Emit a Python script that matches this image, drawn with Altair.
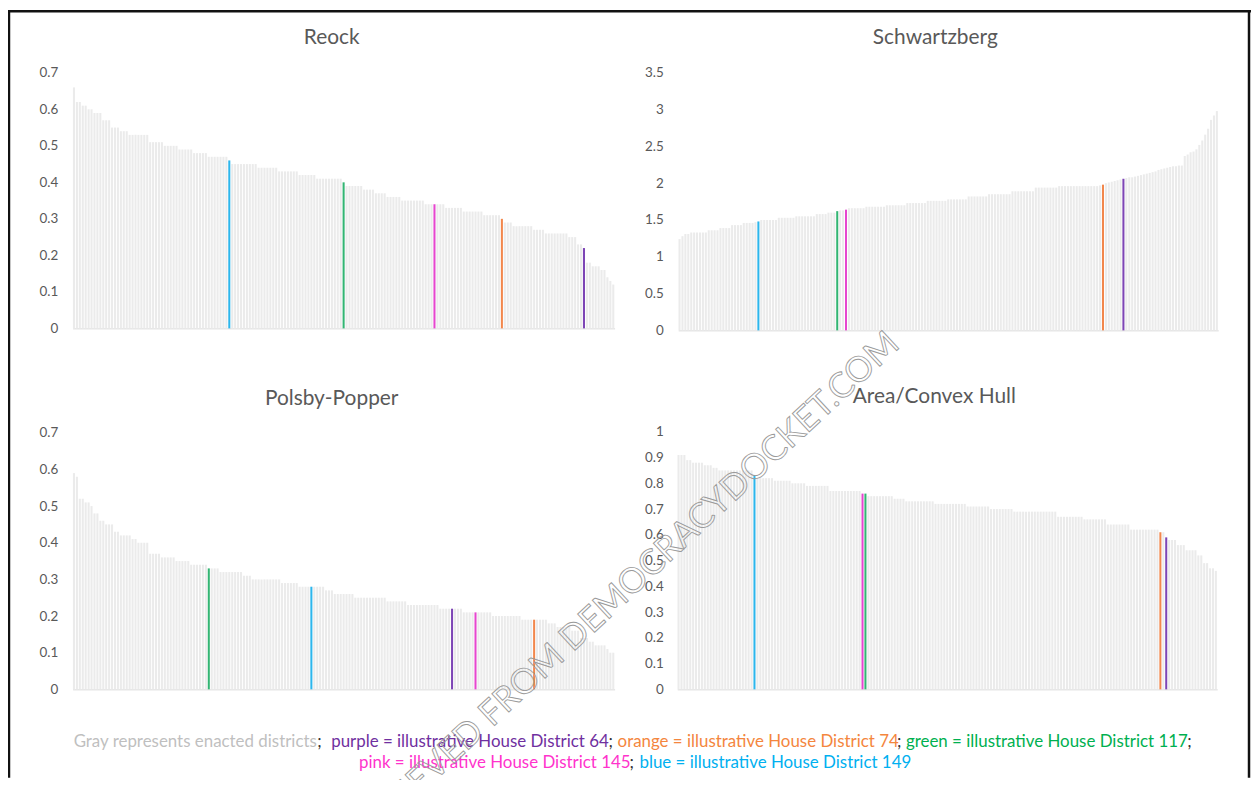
import altair as alt
import pandas as pd

W, H = 1250, 772

# ---------------- data ----------------
reock = [
    0.66, 0.62, 0.62, 0.61, 0.61, 0.60, 0.60, 0.59, 0.59, 0.59,
    0.57, 0.57, 0.57, 0.55, 0.55, 0.55, 0.54, 0.54, 0.54, 0.53,
    0.53, 0.53, 0.53, 0.53, 0.53, 0.53, 0.51, 0.51, 0.51, 0.51,
    0.51, 0.50, 0.50, 0.50, 0.50, 0.50, 0.49, 0.49, 0.49, 0.49,
    0.49, 0.48, 0.48, 0.48, 0.48, 0.48, 0.47, 0.47, 0.47, 0.47,
    0.47, 0.47, 0.47, 0.46, 0.45, 0.45, 0.45, 0.45, 0.45, 0.45,
    0.45, 0.45, 0.45, 0.44, 0.44, 0.44, 0.44, 0.44, 0.44, 0.44,
    0.43, 0.43, 0.43, 0.43, 0.43, 0.43, 0.43, 0.42, 0.42, 0.42,
    0.42, 0.42, 0.42, 0.41, 0.41, 0.41, 0.41, 0.41, 0.41, 0.41,
    0.41, 0.41, 0.40, 0.39, 0.39, 0.39, 0.39, 0.39, 0.39, 0.38,
    0.38, 0.38, 0.38, 0.37, 0.37, 0.37, 0.37, 0.36, 0.36, 0.36,
    0.36, 0.36, 0.35, 0.35, 0.35, 0.35, 0.35, 0.35, 0.35, 0.35,
    0.34, 0.34, 0.34, 0.34, 0.34, 0.34, 0.34, 0.33, 0.33, 0.33,
    0.33, 0.33, 0.33, 0.32, 0.32, 0.32, 0.32, 0.32, 0.32, 0.32,
    0.31, 0.31, 0.31, 0.31, 0.31, 0.31, 0.30, 0.29, 0.29, 0.29,
    0.28, 0.28, 0.28, 0.28, 0.28, 0.28, 0.28, 0.27, 0.27, 0.27,
    0.27, 0.26, 0.26, 0.26, 0.26, 0.26, 0.26, 0.26, 0.26, 0.25,
    0.25, 0.25, 0.23, 0.23, 0.22, 0.18, 0.18, 0.17, 0.17, 0.17,
    0.16, 0.16, 0.14, 0.13, 0.12,
]

schwartzberg = [
    1.24, 1.28, 1.31, 1.31, 1.33, 1.33, 1.33, 1.33, 1.33, 1.33,
    1.36, 1.36, 1.36, 1.36, 1.39, 1.39, 1.39, 1.39, 1.43, 1.43,
    1.43, 1.43, 1.46, 1.46, 1.46, 1.46, 1.47, 1.48, 1.50, 1.50,
    1.50, 1.50, 1.50, 1.50, 1.53, 1.53, 1.53, 1.53, 1.53, 1.53,
    1.55, 1.55, 1.55, 1.55, 1.55, 1.55, 1.55, 1.58, 1.58, 1.58,
    1.58, 1.60, 1.60, 1.60, 1.62, 1.63, 1.63, 1.64, 1.66, 1.66,
    1.66, 1.66, 1.66, 1.66, 1.68, 1.68, 1.68, 1.68, 1.68, 1.68,
    1.68, 1.70, 1.70, 1.70, 1.70, 1.70, 1.70, 1.70, 1.73, 1.73,
    1.73, 1.73, 1.73, 1.73, 1.73, 1.76, 1.76, 1.76, 1.76, 1.76,
    1.76, 1.76, 1.78, 1.78, 1.78, 1.78, 1.78, 1.78, 1.78, 1.82,
    1.82, 1.82, 1.82, 1.82, 1.82, 1.82, 1.85, 1.85, 1.85, 1.85,
    1.85, 1.85, 1.85, 1.85, 1.89, 1.89, 1.89, 1.89, 1.89, 1.89,
    1.89, 1.89, 1.94, 1.94, 1.94, 1.94, 1.94, 1.94, 1.94, 1.94,
    1.96, 1.96, 1.96, 1.96, 1.96, 1.96, 1.96, 1.96, 1.96, 1.96,
    1.96, 1.96, 1.96, 1.96, 1.97, 1.98, 2.00, 2.01, 2.02, 2.03,
    2.04, 2.05, 2.06, 2.07, 2.08, 2.08, 2.09, 2.10, 2.11, 2.12,
    2.13, 2.14, 2.15, 2.16, 2.18, 2.19, 2.20, 2.21, 2.22, 2.23,
    2.23, 2.24, 2.24, 2.37, 2.39, 2.42, 2.43, 2.46, 2.52, 2.58,
    2.66, 2.74, 2.86, 2.92, 2.98,
]

polsby_popper = [
    0.59, 0.58, 0.52, 0.52, 0.51, 0.51, 0.50, 0.48, 0.48, 0.46,
    0.46, 0.45, 0.45, 0.45, 0.43, 0.43, 0.42, 0.42, 0.42, 0.42,
    0.41, 0.41, 0.40, 0.40, 0.40, 0.40, 0.37, 0.37, 0.37, 0.37,
    0.36, 0.36, 0.36, 0.36, 0.36, 0.35, 0.35, 0.35, 0.35, 0.35,
    0.34, 0.34, 0.34, 0.34, 0.34, 0.34, 0.33, 0.33, 0.33, 0.33,
    0.32, 0.32, 0.32, 0.32, 0.32, 0.32, 0.32, 0.32, 0.31, 0.31,
    0.31, 0.30, 0.30, 0.30, 0.30, 0.30, 0.30, 0.30, 0.30, 0.30,
    0.30, 0.29, 0.29, 0.29, 0.29, 0.29, 0.29, 0.28, 0.28, 0.28,
    0.28, 0.28, 0.28, 0.28, 0.28, 0.28, 0.27, 0.27, 0.27, 0.26,
    0.26, 0.26, 0.26, 0.26, 0.26, 0.26, 0.25, 0.25, 0.25, 0.25,
    0.25, 0.25, 0.25, 0.25, 0.25, 0.25, 0.25, 0.24, 0.24, 0.24,
    0.24, 0.24, 0.24, 0.24, 0.23, 0.23, 0.23, 0.23, 0.23, 0.23,
    0.23, 0.23, 0.23, 0.23, 0.23, 0.22, 0.22, 0.22, 0.22, 0.22,
    0.22, 0.22, 0.22, 0.21, 0.21, 0.21, 0.21, 0.21, 0.21, 0.21,
    0.21, 0.21, 0.21, 0.20, 0.20, 0.20, 0.20, 0.20, 0.20, 0.20,
    0.20, 0.20, 0.20, 0.19, 0.19, 0.19, 0.19, 0.19, 0.19, 0.19,
    0.19, 0.19, 0.18, 0.18, 0.18, 0.17, 0.17, 0.17, 0.17, 0.17,
    0.16, 0.16, 0.16, 0.14, 0.14, 0.14, 0.13, 0.13, 0.12, 0.12,
    0.12, 0.12, 0.11, 0.10, 0.10,
]

area_convex_hull = [
    0.91, 0.91, 0.91, 0.89, 0.89, 0.88, 0.88, 0.88, 0.88, 0.87,
    0.87, 0.87, 0.86, 0.86, 0.85, 0.85, 0.85, 0.85, 0.85, 0.85,
    0.85, 0.85, 0.85, 0.85, 0.85, 0.85, 0.83, 0.82, 0.82, 0.82,
    0.82, 0.82, 0.82, 0.81, 0.81, 0.81, 0.81, 0.81, 0.81, 0.80,
    0.80, 0.80, 0.80, 0.80, 0.79, 0.79, 0.79, 0.79, 0.79, 0.79,
    0.79, 0.79, 0.77, 0.77, 0.77, 0.77, 0.77, 0.77, 0.77, 0.77,
    0.77, 0.77, 0.77, 0.76, 0.76, 0.75, 0.75, 0.75, 0.75, 0.75,
    0.75, 0.75, 0.75, 0.75, 0.74, 0.74, 0.74, 0.74, 0.73, 0.73,
    0.73, 0.73, 0.73, 0.73, 0.73, 0.73, 0.73, 0.73, 0.72, 0.72,
    0.72, 0.72, 0.72, 0.72, 0.72, 0.72, 0.72, 0.72, 0.72, 0.71,
    0.71, 0.71, 0.71, 0.71, 0.71, 0.71, 0.71, 0.70, 0.70, 0.70,
    0.70, 0.70, 0.70, 0.70, 0.70, 0.69, 0.69, 0.69, 0.69, 0.69,
    0.69, 0.69, 0.69, 0.69, 0.69, 0.69, 0.69, 0.69, 0.69, 0.69,
    0.67, 0.67, 0.67, 0.67, 0.67, 0.67, 0.67, 0.67, 0.67, 0.66,
    0.66, 0.66, 0.66, 0.66, 0.66, 0.66, 0.66, 0.64, 0.64, 0.64,
    0.64, 0.64, 0.64, 0.64, 0.64, 0.62, 0.62, 0.62, 0.62, 0.62,
    0.62, 0.62, 0.62, 0.62, 0.62, 0.61, 0.61, 0.59, 0.58, 0.58,
    0.58, 0.56, 0.56, 0.56, 0.54, 0.54, 0.54, 0.54, 0.52, 0.52,
    0.49, 0.49, 0.47, 0.47, 0.46,
]

# position (0-based, in sorted order) of each illustrative district in every panel
reock_hl = {"HD 149": 53, "HD 117": 92, "HD 145": 123, "HD 74": 146, "HD 64": 174}
schwartzberg_hl = {"HD 149": 27, "HD 117": 54, "HD 145": 57, "HD 74": 145, "HD 64": 152}
polsby_hl = {"HD 117": 46, "HD 149": 81, "HD 64": 129, "HD 145": 137, "HD 74": 157}
ach_hl = {"HD 149": 26, "HD 145": 63, "HD 117": 64, "HD 74": 165, "HD 64": 167}

groups = ["enacted", "HD 64", "HD 74", "HD 117", "HD 145", "HD 149"]
group_colors = ["#ebebeb", "#7d45b5", "#f2874c", "#33b573", "#e646cf", "#2db6ec"]

titles = ["Reock", "Schwartzberg", "Polsby-Popper", "Area/Convex Hull"]
ticks_07 = [0, 0.1, 0.2, 0.3, 0.4, 0.5, 0.6, 0.7]
ticks_35 = [0, 0.5, 1, 1.5, 2, 2.5, 3, 3.5]
ticks_10 = [0, 0.1, 0.2, 0.3, 0.4, 0.5, 0.6, 0.7, 0.8, 0.9, 1]

legend_texts = [
    "Gray represents enacted districts", ";",
    "purple = illustrative House District 64", ";",
    "orange = illustrative House District 74", ";",
    "green = illustrative House District 117", ";",
    "pink = illustrative House District 145", ";",
    "blue = illustrative House District 149",
]
legend_colors = ["#bfbfbf", "#333333", "#7030a0", "#333333", "#f4863e", "#333333",
                 "#00b050", "#333333", "#ff33cc", "#333333", "#00b0f0"]
legend_x = [66, 311, 325, 604, 613, 894, 903, 1186, 353, 625, 635]
legend_y = [736, 736, 736, 736, 736, 736, 736, 736, 757, 757, 757]

watermark = "RETRIEVED FROM DEMOCRACYDOCKET.COM"

FONT = "Lato"
TXT = "#595959"


def panel(title, values, hl, ticks, ymax, x0, x1, ybase, ytop, label_right, tx, ty):
    grp = ["enacted"] * len(values)
    for g, i in hl.items():
        grp[i] = g
    df = pd.DataFrame({"district": list(range(1, len(values) + 1)),
                       "score": values, "group": grp})
    return alt.Chart(df).mark_bar().encode(
        x=alt.X("district:O",
                scale=alt.Scale(range=[x0, x1], paddingInner=0.3, paddingOuter=0.1),
                axis=alt.Axis(orient="bottom", offset=ybase - H, labels=False, ticks=False,
                              domain=True, domainColor="#d9d9d9", domainWidth=1, grid=False,
                              title=title, titleX=tx, titleY=ty - ybase, titleAlign="center",
                              titleBaseline="middle", titleAngle=0, titleFont=FONT,
                              titleFontSize=21, titleFontWeight="normal", titleColor=TXT)),
        y=alt.Y("score:Q",
                scale=alt.Scale(domain=[0, ymax], range=[ybase, ytop], nice=False),
                axis=alt.Axis(orient="left", offset=-label_right, values=ticks, format="~g",
                              ticks=False, tickSize=0, labelPadding=0, domain=False, grid=False,
                              title="", labelFont=FONT, labelFontSize=13.5, labelColor=TXT)),
        color=alt.Color("group:N", scale=alt.Scale(domain=groups, range=group_colors),
                        legend=None),
    )


p1 = panel(titles[0], reock, reock_hl, ticks_07, 0.7, 65, 610, 320, 63, 50, 325, 28)
p2 = panel(titles[1], schwartzberg, schwartzberg_hl, ticks_35, 3.5, 674, 1217, 322, 63, 659, 932, 28)
p3 = panel(titles[2], polsby_popper, polsby_hl, ticks_07, 0.7, 65, 610, 683, 425, 50, 325, 391)
p4 = panel(titles[3], area_convex_hull, ach_hl, ticks_10, 1.0, 673, 1216, 683, 424, 659, 931, 389)

legend_df = pd.DataFrame({"t": legend_texts, "c": legend_colors, "x": legend_x, "y": legend_y})
legend = alt.Chart(legend_df).mark_text(align="left", baseline="middle", font=FONT,
                                        fontSize=17).encode(
    x=alt.X("x:Q", scale=None, axis=None),
    y=alt.Y("y:Q", scale=None, axis=None),
    text="t:N",
    color=alt.Color("c:N", scale=None, legend=None),
)

wm_df = pd.DataFrame({"t": [watermark], "x": [614], "y": [588]})
wm = alt.Chart(wm_df).mark_text(align="center", baseline="middle", font=FONT, fontSize=35,
                                angle=317, fillOpacity=0, stroke="#9a9a9a",
                                strokeWidth=0.9).encode(
    x=alt.X("x:Q", scale=None, axis=None),
    y=alt.Y("y:Q", scale=None, axis=None),
    text="t:N",
)

one = alt.Data(values=[{"k": 1}])
frame_left = alt.Chart(one).mark_rule(color="#111111", strokeWidth=2.5).encode(
    x=alt.value(1), y=alt.value(0), y2=alt.value(H))
frame_right = alt.Chart(one).mark_rule(color="#111111", strokeWidth=2.5).encode(
    x=alt.value(W - 2), y=alt.value(0), y2=alt.value(H))
frame_top = alt.Chart(one).mark_rule(color="#111111", strokeWidth=2.5).encode(
    x=alt.value(0), x2=alt.value(W), y=alt.value(1))

chart = alt.layer(p1, p2, p3, p4, legend, wm, frame_left, frame_right, frame_top).resolve_scale(
    x="independent", y="independent", color="independent"
).properties(
    width=W, height=H, autosize=alt.AutoSizeParams(type="none"), padding=0,
    background="white",
).configure_view(strokeWidth=0)

chart.save("out.html", embed_options={"renderer": "svg", "actions": False})
